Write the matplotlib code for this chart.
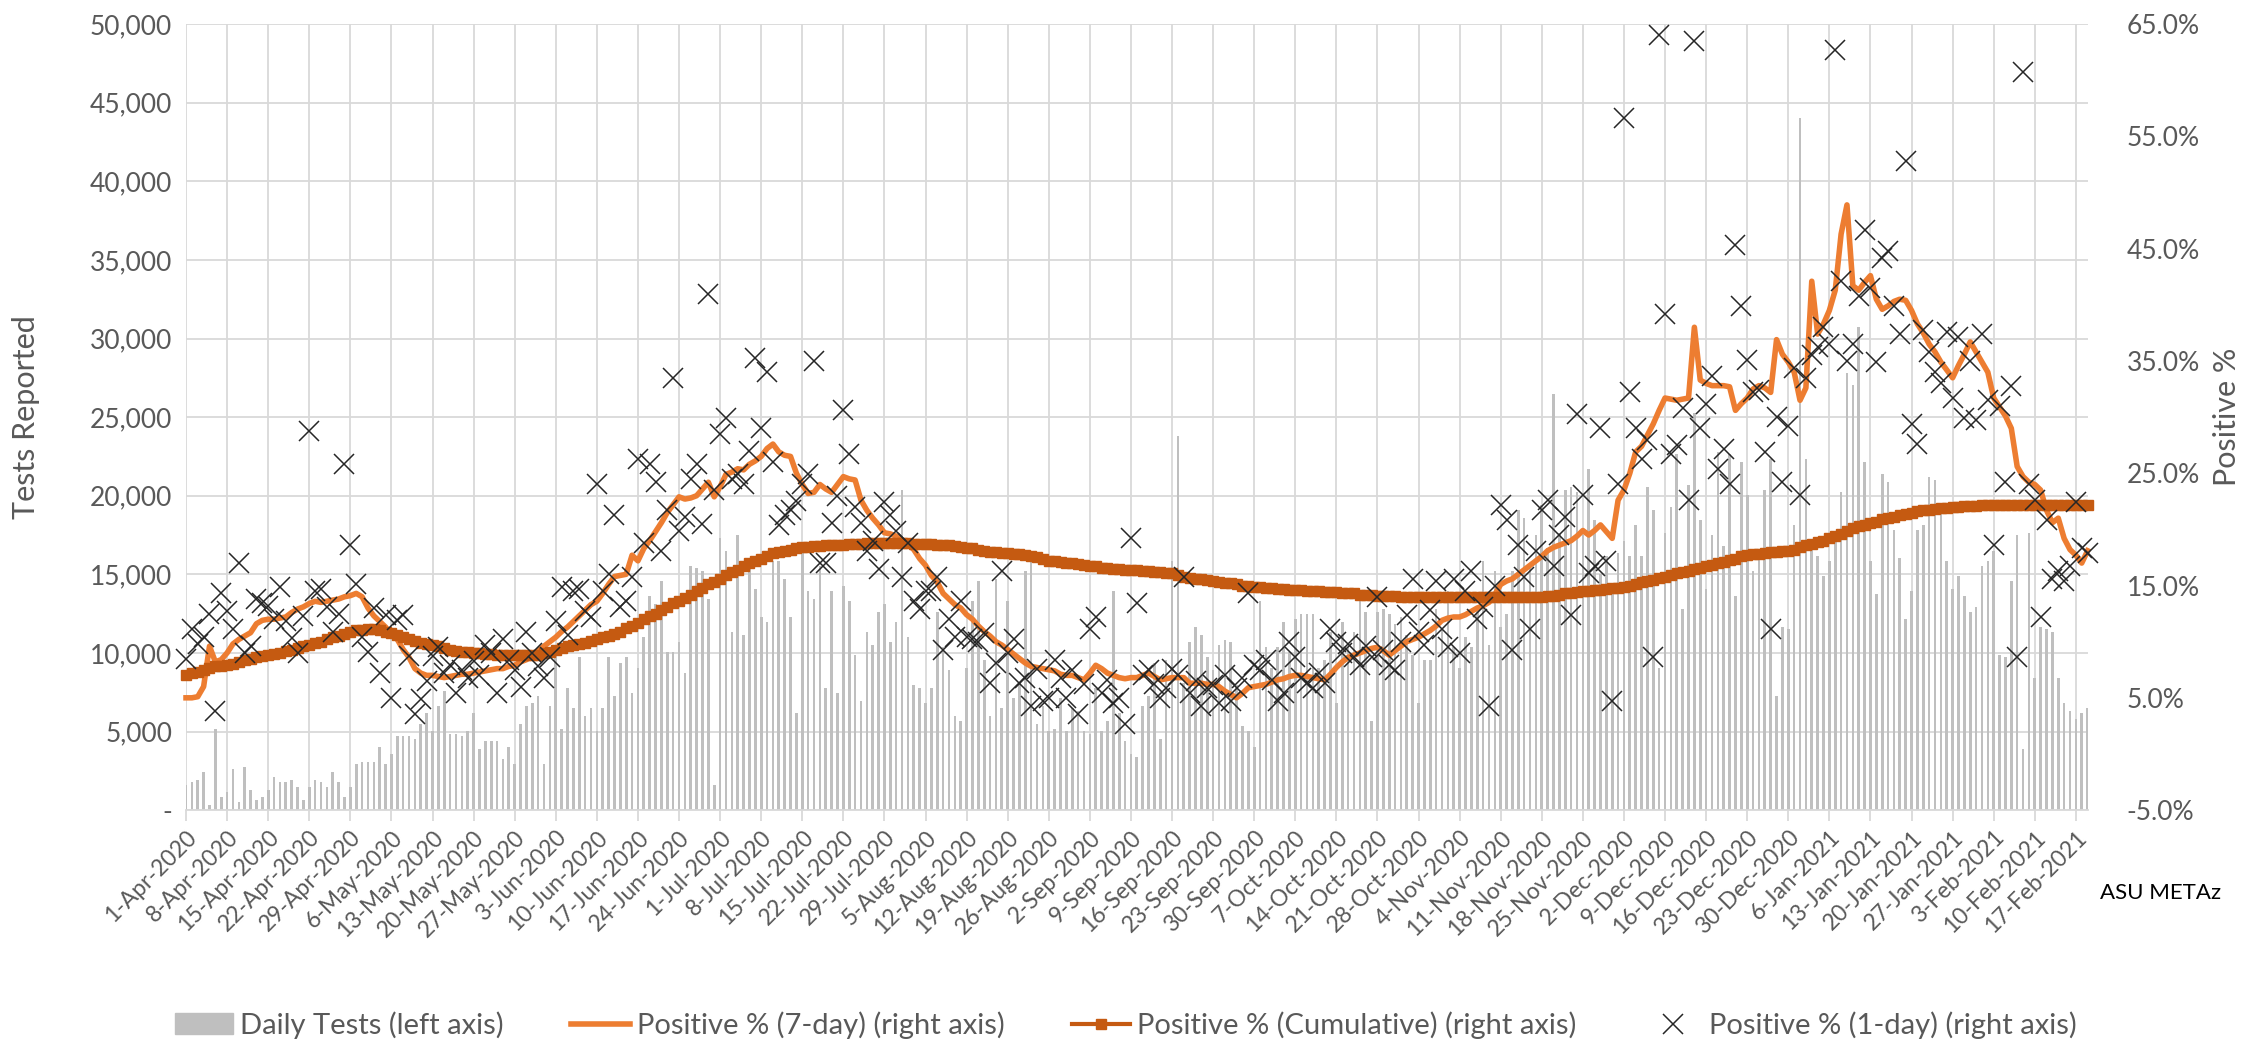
import numpy as np
import pandas as pd
import matplotlib
matplotlib.use('Agg')
import matplotlib.pyplot as plt
from matplotlib.ticker import FuncFormatter
from matplotlib.lines import Line2D
from matplotlib.patches import Patch

plt.rcParams['font.family'] = ['Lato', 'DejaVu Sans']

# one value per day, 1-Apr-2020 .. 19-Feb-2021 (rows are weeks starting Wednesday)
start_date = '2020-04-01'

daily_tests = [
    1620, 1780, 1940, 2430, 300, 5180, 810, 1130, 2590, 485,
    2750, 1290, 650, 810, 1290, 2100, 1780, 1780, 1940, 1450,
    650, 1450, 1940, 1780, 1450, 2430, 1780, 810, 1450, 2910,
    3070, 3070, 3070, 4045, 2910, 3560, 4690, 4690, 4690, 4530,
    5500, 6150, 5015, 6630, 7600, 4850, 4850, 4690, 5015, 6150,
    3880, 4370, 4370,
    4370, 3240, 4045, 2910, 5500, 6630, 6800, 7280, 2910, 6630,
    10360, 5180, 7770, 6470, 9710, 5990, 6470, 5015, 6470, 9710,
    7280, 9380, 9710, 7440, 9060, 11000, 13590, 13100, 14560, 10030,
    10030, 10680, 8740, 15530, 15370, 15210, 13430, 1620, 17310, 16500,
    11330, 17470, 11160, 15530, 14080, 12300, 11970, 15860, 15860, 14720,
    12300, 6150, 16900, 13920, 13430, 15530,
    7770, 13920, 7440, 14240, 13270, 9870, 6960, 11330, 10520, 12620,
    13100, 10680, 11970, 20390, 11000, 7930, 7770, 6800, 7770, 12620,
    10360, 8900, 5990, 5660, 9060, 13270, 14560, 9550, 5990, 14720,
    6470, 13270, 7120, 8090, 15210, 15860, 5500, 6630, 5015, 5180,
    7120, 5015, 6470, 6310, 5015, 4850, 7770, 5015, 5660, 13920,
    6150, 4370, 3560,
    3400, 6630, 7280, 9380, 4530, 9550, 15860, 23780, 8090, 10680,
    11650, 11160, 9710, 8900, 10520, 10840, 10680, 7930, 5340, 5015,
    4045, 13270, 10360, 9060, 10360, 11970, 10030, 12140, 12460, 12460,
    12460, 9060, 9550, 11330, 6800, 11970, 10360, 11330, 13270, 12620,
    5660, 12620, 12780, 12460, 11810, 12300, 11160, 9870, 6800, 9550,
    9550, 12780, 11490, 13920,
    10360, 9060, 11000, 10360, 12940, 15860, 10520, 15210, 11650, 12460,
    15210, 19090, 18610, 15370, 17470, 19420, 16670, 26500, 17630, 20390,
    20550, 20230, 17470, 21680, 18450, 15050, 16180, 14240, 16340, 17150,
    16180, 18120, 16180, 20550, 19090, 9060, 17630, 19250, 22650, 12780,
    20710, 25240, 18450, 14080, 17470, 22810, 16830, 22650, 13590, 22170,
    20060, 15210, 16000, 20390,
    22330, 7280, 11650, 11490, 18120, 44010, 22330, 17150, 16180, 14890,
    15860, 17470, 20230, 27830, 27020, 30740, 22170, 15860, 13750, 21360,
    20870, 17800, 16020, 12140, 13920, 17800, 18120, 21200, 21030, 19090,
    15860, 14080, 14890, 13590, 12620, 12940, 15530, 15860, 16500, 9870,
    9710, 14560, 17470, 3880, 17640, 8410, 11650, 11490, 11330, 8410,
    6800, 6310, 5820, 6150, 6470,
]

pos_7day = [
    5.0, 5.0, 5.1, 6.0, 9.6, 8.2, 8.4,
    9.0, 9.8, 10.2, 10.5, 10.8, 11.6, 11.9,
    12.0, 12.0, 12.1, 12.2, 12.6, 12.9, 13.1,
    13.4, 13.6, 13.5, 13.6, 13.7, 13.8, 14.0,
    14.1, 14.3, 14.0, 13.0, 12.3, 11.8, 11.3,
    10.6, 10.2, 9.3, 8.6, 7.6, 7.2, 7.0,
    7.0, 6.9, 6.8, 6.9, 7.0, 7.1, 7.1,
    7.2, 7.3, 7.4, 7.5, 7.6, 7.6, 7.8,
    7.9, 8.2, 8.4, 8.8, 9.2, 9.6, 10.0,
    10.4, 10.9, 11.3, 11.8, 12.3, 12.8, 13.3,
    13.6, 14.3, 15.1, 15.8, 15.9, 16.0, 17.7,
    17.2, 18.3, 19.0, 19.8, 20.6, 21.5, 22.2,
    22.9, 22.7, 22.8, 23.0, 23.6, 24.2, 22.9,
    23.8, 24.9, 25.1, 25.4, 25.3, 25.8, 26.1,
    26.5, 27.2, 27.6, 26.9, 26.6, 26.5, 25.0,
    24.0, 23.2, 23.3, 24.0, 23.6, 23.3, 24.0,
    24.7, 24.5, 24.4, 22.6, 21.7, 21.0, 20.4,
    19.7, 19.6, 19.4, 19.0, 18.7, 18.2, 17.4,
    16.8, 15.9, 15.3, 14.3, 13.8, 13.3, 13.0,
    12.4, 12.0, 11.4, 10.9, 10.5, 10.0, 9.7,
    9.3, 8.9, 8.5, 8.1, 7.8, 7.7, 7.6,
    7.5, 7.4, 7.1, 7.0, 7.0, 6.8, 6.6,
    7.2, 7.9, 7.6, 7.2, 7.0, 6.8, 6.7,
    6.8, 6.8, 7.0, 7.2, 6.9, 6.6, 6.7,
    6.8, 6.8, 6.8, 6.3, 6.3, 6.3, 6.2,
    6.2, 6.0, 5.6, 5.3, 5.0, 5.4, 5.9,
    6.0, 6.1, 6.2, 6.4, 6.6, 6.7, 6.9,
    7.0, 7.0, 6.9, 6.8, 6.7, 6.6, 7.1,
    7.7, 8.2, 8.6, 8.8, 9.0, 9.2, 9.4,
    9.5, 9.2, 8.8, 9.2, 9.6, 10.0, 10.2,
    10.4, 10.7, 11.0, 11.4, 11.9, 12.1, 12.2,
    12.2, 12.4, 12.7, 13.0, 13.2, 13.5, 14.2,
    15.1, 15.4, 15.6, 16.0, 16.4, 16.8, 17.2,
    17.6, 18.1, 18.4, 18.6, 18.8, 19.0, 19.4,
    19.9, 19.5, 19.9, 20.4, 19.8, 19.2, 22.6,
    23.5, 25.0, 26.9, 27.4, 28.4, 29.4, 30.6,
    31.7, 31.6, 31.5, 31.6, 31.7, 38.0, 33.3,
    33.0, 32.8, 32.8, 32.8, 32.7, 30.6, 31.2,
    31.7, 32.5, 32.8, 32.6, 32.2, 36.9, 35.6,
    34.9, 34.0, 31.5, 32.6, 42.1, 37.4, 38.3,
    39.5, 41.3, 46.3, 48.9, 41.7, 41.3, 42.0,
    42.6, 40.5, 39.6, 39.9, 40.3, 40.5, 40.4,
    39.5, 38.3, 37.5, 36.5, 35.8, 34.9, 34.2,
    33.5, 34.6, 35.6, 36.7, 35.8, 34.9, 34.0,
    31.7, 30.9, 30.1, 29.0, 25.6, 24.7, 24.2,
    24.0, 23.5, 21.7, 20.6, 21.0, 19.2, 18.2,
    17.7, 17.0, 18.1,
]

pos_cum = [
    7.0, 7.2, 7.3, 7.5, 7.7, 7.8, 7.8,
    7.9, 8.0, 8.2, 8.4, 8.5, 8.6, 8.7,
    8.8, 8.9, 9.0, 9.2, 9.3, 9.4, 9.6,
    9.7, 9.9, 10.0, 10.2, 10.4, 10.5, 10.7,
    10.9, 11.0, 11.0, 11.1, 11.1, 11.0, 10.9,
    10.8, 10.6, 10.4, 10.2, 10.1, 9.9, 9.8,
    9.7, 9.6, 9.4, 9.3, 9.2, 9.1, 9.1,
    9.0, 9.0, 8.9, 8.9, 8.8, 8.8, 8.8,
    8.8, 8.8, 8.8, 8.8, 8.8, 9.0, 9.1,
    9.3, 9.4, 9.6, 9.7, 9.8, 9.9, 10.1,
    10.2, 10.4, 10.5, 10.7, 10.9, 11.2, 11.4,
    11.7, 12.0, 12.3, 12.5, 12.8, 13.1, 13.4,
    13.6, 13.9, 14.2, 14.5, 14.8, 15.1, 15.3,
    15.6, 15.9, 16.2, 16.4, 16.7, 17.0, 17.2,
    17.4, 17.6, 17.9, 18.0, 18.1, 18.2, 18.3,
    18.4, 18.4, 18.5, 18.5, 18.6, 18.6, 18.6,
    18.6, 18.7, 18.7, 18.7, 18.8, 18.8, 18.8,
    18.8, 18.8, 18.8, 18.8, 18.8, 18.7, 18.7,
    18.7, 18.7, 18.6, 18.6, 18.6, 18.5, 18.4,
    18.3, 18.3, 18.2, 18.1, 18.0, 18.0, 17.9,
    17.9, 17.8, 17.8, 17.7, 17.6, 17.5, 17.4,
    17.2, 17.2, 17.1, 17.0, 17.0, 16.9, 16.8,
    16.7, 16.7, 16.6, 16.6, 16.5, 16.5, 16.4,
    16.4, 16.4, 16.3, 16.3, 16.2, 16.2, 16.1,
    16.1, 15.9, 15.8, 15.7, 15.6, 15.6, 15.5,
    15.4, 15.3, 15.2, 15.2, 15.1, 15.0, 15.0,
    14.9, 14.9, 14.8, 14.8, 14.7, 14.7, 14.6,
    14.6, 14.6, 14.5, 14.5, 14.5, 14.4, 14.4,
    14.4, 14.3, 14.3, 14.3, 14.2, 14.2, 14.2,
    14.1, 14.1, 14.1, 14.1, 14.0, 14.0, 14.0,
    14.0, 14.0, 14.0, 14.0, 14.0, 14.0, 14.0,
    14.0, 14.0, 14.0, 14.0, 14.0, 14.0, 14.0,
    14.0, 14.0, 14.0, 14.0, 14.0, 14.0, 14.0,
    14.0, 14.1, 14.1, 14.2, 14.3, 14.3, 14.4,
    14.5, 14.5, 14.6, 14.6, 14.7, 14.8, 14.8,
    14.9, 15.0, 15.1, 15.3, 15.4, 15.5, 15.7,
    15.8, 15.9, 16.1, 16.2, 16.3, 16.5, 16.6,
    16.7, 16.8, 17.0, 17.1, 17.3, 17.4, 17.6,
    17.7, 17.8, 17.8, 17.9, 18.0, 18.0, 18.1,
    18.1, 18.2, 18.4, 18.6, 18.7, 18.9, 19.0,
    19.2, 19.4, 19.6, 19.9, 20.1, 20.3, 20.4,
    20.6, 20.7, 20.9, 21.0, 21.1, 21.3, 21.4,
    21.5, 21.6, 21.7, 21.7, 21.8, 21.9, 21.9,
    22.0, 22.0, 22.1, 22.1, 22.1, 22.2, 22.2,
    22.2, 22.2, 22.2, 22.2, 22.2, 22.2, 22.2,
    22.2, 22.2, 22.2, 22.2, 22.2, 22.2, 22.2,
    22.2, 22.2, 22.2,
]

pos_1day = [
    8.5, 11.1, 9.8, 10.4, 12.5, 3.8, 14.3,
    12.7, 11.1, 17.0, 9.0, 9.6, 13.8, 13.4,
    13.2, 12.0, 14.9, 11.8, 10.3, 9.0, 12.3,
    28.8, 14.5, 14.7, 13.1, 10.9, 12.5, 25.8,
    18.6, 15.1, 10.4, 9.1, 13.0, 7.2, 12.4,
    5.0, 11.9, 12.4, 8.7, 3.6, 4.9, 6.5,
    8.7, 9.5, 7.2, 7.9, 5.4, 7.5, 6.8,
    8.3, 7.0, 9.7, 9.0, 5.4, 10.2, 8.4,
    7.5, 6.0, 10.9, 9.0, 7.8, 6.8, 8.6,
    11.8, 14.9, 10.6, 14.5, 14.7, 12.7, 12.2,
    24.0, 14.5, 16.0, 21.3, 13.1, 13.6, 15.8,
    26.3, 18.8, 25.8, 24.2, 18.1, 21.7, 33.5,
    19.9, 21.1, 24.5, 25.8, 20.5, 41.0, 23.5,
    28.5, 29.9, 24.5, 24.9, 24.0, 27.0, 35.3,
    29.0, 34.0, 26.0, 20.4, 21.3, 21.7, 22.5,
    24.0, 24.9, 35.0, 17.0, 17.0, 20.6, 23.0,
    30.6, 26.7, 22.0, 20.6, 18.1, 19.0, 16.5,
    22.4, 21.3, 19.9, 15.8, 18.8, 13.6, 12.9,
    14.5, 14.5, 15.8, 9.3, 12.0, 10.4, 13.6,
    10.4, 10.2, 10.0, 10.8, 6.3, 8.1, 16.3,
    9.0, 10.2, 6.3, 6.8, 4.3, 7.6, 4.7,
    5.0, 8.4, 6.8, 5.0, 7.5, 3.6, 6.2,
    11.1, 12.2, 5.4, 6.6, 4.5, 5.0, 2.7,
    19.2, 13.4, 7.0, 7.5, 6.2, 5.0, 5.9,
    7.6, 7.0, 15.8, 5.4, 6.5, 4.3, 5.9,
    6.1, 4.5, 7.0, 4.7, 5.9, 6.8, 14.3,
    7.9, 7.5, 8.4, 6.6, 4.7, 5.4, 10.0,
    8.6, 6.8, 6.3, 5.9, 7.2, 6.3, 11.1,
    10.0, 9.0, 9.8, 8.6, 7.9, 9.6, 8.6,
    14.0, 9.3, 7.9, 7.5, 10.0, 12.4, 15.6,
    10.9, 9.7, 12.8, 15.4, 11.1, 9.5, 15.6,
    9.0, 14.5, 16.3, 12.0, 13.1, 4.3, 15.0,
    22.2, 20.8, 9.3, 18.6, 15.8, 11.1, 18.1,
    21.7, 22.6, 16.7, 19.5, 21.1, 12.4, 30.3,
    23.1, 16.1, 16.7, 29.0, 17.2, 4.7, 24.0,
    56.6, 32.2, 29.0, 26.3, 28.0, 8.6, 64.0,
    39.2, 26.7, 27.5, 30.8, 22.6, 63.5, 29.0,
    31.2, 33.7, 25.4, 27.2, 24.0, 45.3, 39.9,
    35.1, 32.2, 32.4, 26.9, 11.1, 30.0, 24.2,
    29.2, 34.4, 23.1, 33.5, 35.5, 36.2, 38.0,
    36.5, 62.7, 42.1, 35.0, 36.5, 40.8, 46.7,
    41.5, 34.9, 44.2, 44.8, 39.9, 37.4, 52.8,
    29.4, 27.6, 37.8, 35.8, 34.0, 33.0, 37.6,
    31.7, 37.1, 29.9, 35.0, 29.7, 37.4, 31.5,
    18.6, 31.0, 24.2, 32.8, 8.6, 60.7, 24.0,
    22.6, 12.2, 20.8, 15.6, 16.3, 15.4, 16.7,
    22.4, 18.3, 17.9,
]

n_days = len(daily_tests)
dates = pd.date_range(start_date, periods=n_days, freq='D')
tick_labels = [f"{d.day}-{d.strftime('%b-%Y')}" for d in dates[::7]]
x = np.arange(n_days)

text_col = '#595959'
grid_col = '#D9D9D9'

fig = plt.figure(figsize=(22.52, 10.48), dpi=100)
ax = fig.add_axes([0.0826, 0.227, 0.8444, 0.750])

ax.bar(x, daily_tests, width=0.45, color='#BFBFBF', zorder=2)
ax.set_xlim(0, n_days - 1)
ax.set_ylim(0, 50000)
ax.set_yticks(np.arange(0, 50001, 5000))
ax.yaxis.set_major_formatter(FuncFormatter(lambda v, p: '-' if v == 0 else f'{v:,.0f}'))
ax.set_xticks(x[::7])
ax.set_xticklabels(tick_labels, rotation=45, ha='right', rotation_mode='anchor')
ax.grid(True, color=grid_col, lw=1.3, zorder=0)
ax.set_axisbelow(True)
for s in ['top', 'left', 'right']:
    ax.spines[s].set_visible(False)
ax.spines['bottom'].set_color(grid_col)
ax.spines['bottom'].set_linewidth(1.3)
ax.tick_params(axis='y', length=0, labelsize=19, labelcolor=text_col, pad=10)
ax.tick_params(axis='x', length=8, color=grid_col, width=1.3, labelsize=16.5, labelcolor=text_col, pad=4)
ax.set_ylabel('Tests Reported', fontsize=22, color=text_col)
ax.yaxis.set_label_coords(-0.077, 0.5)

ax2 = ax.twinx()
ax2.set_ylim(-5, 65)
ax2.set_yticks(np.arange(-5, 66, 10))
ax2.yaxis.set_major_formatter(FuncFormatter(lambda v, p: f'{v:.1f}%'))
for s in ['top', 'left', 'right', 'bottom']:
    ax2.spines[s].set_visible(False)
ax2.tick_params(axis='y', length=0, labelsize=19, labelcolor=text_col, pad=28)
ax2.set_ylabel('Positive %', fontsize=22, color=text_col, rotation=90)
ax2.yaxis.set_label_coords(1.066, 0.5)

ax2.plot(x, pos_7day, color='#ED7D31', lw=4, zorder=3, solid_joinstyle='round', clip_on=False)
ax2.plot(x, pos_cum, color='#C55A11', lw=3, marker='s', ms=7, mec='#C55A11', zorder=4, clip_on=False)
ax2.plot(x, pos_1day, ls='none', marker='x', ms=14, mew=1.1, color='#262626', zorder=5, clip_on=False)

fig.text(0.9325, 0.148, 'ASU METAz', fontsize=16, color='#000000', ha='left', va='center')

handles = [
    Patch(color='#BFBFBF'),
    Line2D([], [], color='#ED7D31', lw=4),
    Line2D([], [], color='#C55A11', lw=3, marker='s', ms=7),
    Line2D([], [], ls='none', marker='x', ms=14, mew=1.1, color='#262626'),
]
labels = ['Daily Tests (left axis)', 'Positive % (7-day) (right axis)',
          'Positive % (Cumulative) (right axis)', 'Positive % (1-day) (right axis)']
leg = fig.legend(handles, labels, loc='center', bbox_to_anchor=(0.5, 0.022), ncol=4,
                 frameon=False, fontsize=21, columnspacing=2.3, handlelength=2.0, handletextpad=0.25)
for t in leg.get_texts():
    t.set_color(text_col)

fig.savefig('out.png', dpi=100)
